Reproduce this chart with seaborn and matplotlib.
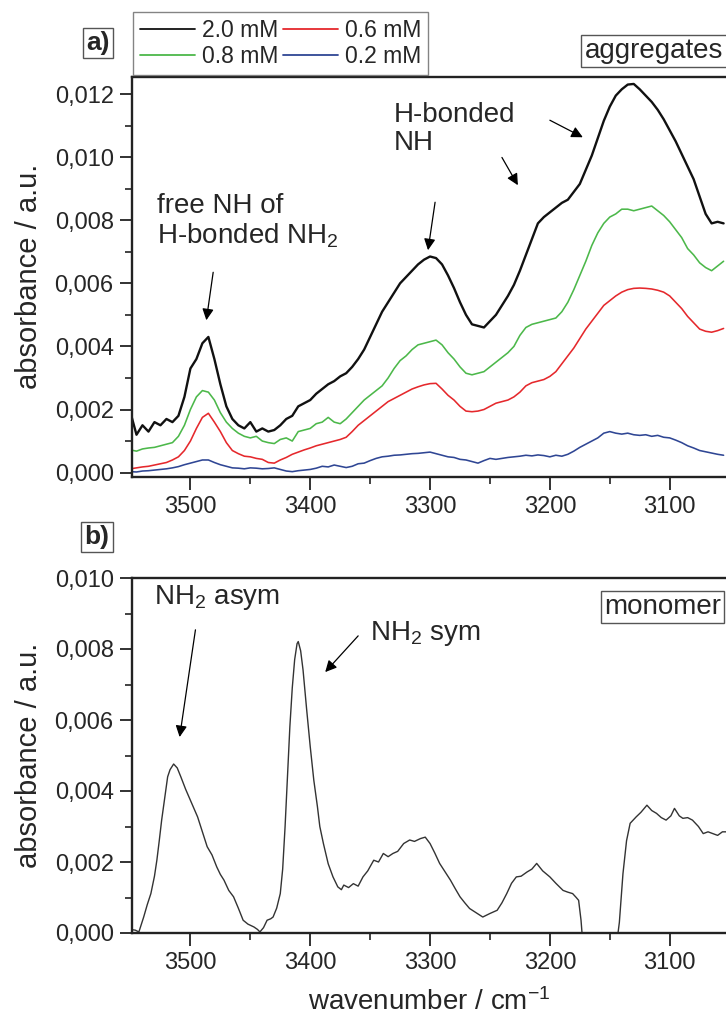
import numpy as np
import pandas as pd
import matplotlib
matplotlib.use("Agg")
import matplotlib.pyplot as plt
from matplotlib.ticker import MultipleLocator, FuncFormatter
from matplotlib.lines import Line2D
import seaborn as sns

# ---------------- data (absorbance in units of 1e-3 a.u.) ----------------
wn_a = np.arange(3550, 3050, -5)  # wavenumber grid for panel a (cm^-1)

abs_20 = [1.9, 1.2, 1.5, 1.3, 1.6, 1.5, 1.7, 1.6, 1.8, 2.4,
          3.3, 3.6, 4.1, 4.3, 3.6, 2.8, 2.1, 1.7, 1.5, 1.4,
          1.6, 1.3, 1.4, 1.3, 1.35, 1.5, 1.7, 1.8, 2.1, 2.2,
          2.3, 2.5, 2.65, 2.8, 2.9, 3.05, 3.15, 3.35, 3.6, 3.9,
          4.3, 4.7, 5.1, 5.4, 5.7, 6.0, 6.2, 6.4, 6.6, 6.75,
          6.85, 6.8, 6.6, 6.25, 5.85, 5.4, 5.0, 4.7, 4.65, 4.6,
          4.8, 5.0, 5.3, 5.6, 5.95, 6.4, 6.9, 7.4, 7.9, 8.1,
          8.25, 8.4, 8.55, 8.65, 8.9, 9.15, 9.6, 10.05, 10.6, 11.15,
          11.6, 11.95, 12.15, 12.3, 12.32, 12.15, 11.95, 11.75, 11.5, 11.2,
          10.85, 10.5, 10.1, 9.7, 9.3, 8.75, 8.2, 7.9, 7.95, 7.9]

abs_08 = [0.72, 0.68, 0.75, 0.78, 0.8, 0.85, 0.9, 0.95, 1.15, 1.5,
          2.0, 2.4, 2.6, 2.55, 2.3, 1.9, 1.6, 1.4, 1.25, 1.15,
          1.1, 1.15, 1.0, 0.95, 0.92, 1.05, 1.1, 1.0, 1.3, 1.35,
          1.4, 1.55, 1.6, 1.75, 1.6, 1.55, 1.7, 1.9, 2.1, 2.3,
          2.45, 2.6, 2.75, 3.0, 3.3, 3.55, 3.7, 3.9, 4.05, 4.1,
          4.15, 4.2, 4.05, 3.8, 3.6, 3.35, 3.15, 3.1, 3.15, 3.2,
          3.35, 3.5, 3.65, 3.8, 4.0, 4.35, 4.6, 4.7, 4.75, 4.8,
          4.85, 4.9, 5.1, 5.4, 5.8, 6.25, 6.7, 7.2, 7.6, 7.9,
          8.1, 8.2, 8.35, 8.35, 8.3, 8.35, 8.4, 8.45, 8.3, 8.15,
          7.95, 7.7, 7.45, 7.1, 6.9, 6.65, 6.5, 6.4, 6.55, 6.7]

abs_06 = [0.12, 0.15, 0.18, 0.2, 0.24, 0.28, 0.32, 0.4, 0.5, 0.7,
          1.0, 1.4, 1.75, 1.88, 1.6, 1.3, 0.95, 0.7, 0.6, 0.52,
          0.5, 0.45, 0.42, 0.32, 0.3, 0.4, 0.48, 0.58, 0.65, 0.72,
          0.78, 0.85, 0.9, 0.95, 1.0, 1.05, 1.12, 1.3, 1.5, 1.65,
          1.8, 1.95, 2.1, 2.25, 2.35, 2.45, 2.55, 2.65, 2.72, 2.78,
          2.82, 2.83, 2.65, 2.45, 2.3, 2.1, 1.95, 1.93, 1.95, 2.0,
          2.1, 2.2, 2.25, 2.3, 2.4, 2.55, 2.75, 2.85, 2.9, 2.95,
          3.05, 3.2, 3.45, 3.7, 3.95, 4.25, 4.55, 4.8, 5.05, 5.3,
          5.45, 5.6, 5.72, 5.8, 5.84, 5.85, 5.84, 5.82, 5.78, 5.72,
          5.6, 5.4, 5.2, 4.95, 4.75, 4.55, 4.48, 4.45, 4.5, 4.57]

abs_02 = [0.03, 0.02, 0.05, 0.06, 0.08, 0.1, 0.12, 0.15, 0.19, 0.25,
          0.3, 0.35, 0.4, 0.4, 0.32, 0.25, 0.2, 0.15, 0.14, 0.12,
          0.15, 0.14, 0.12, 0.13, 0.15, 0.1, 0.05, 0.03, 0.06, 0.08,
          0.1, 0.14, 0.2, 0.18, 0.24, 0.2, 0.16, 0.2, 0.28, 0.3,
          0.38, 0.45, 0.5, 0.52, 0.55, 0.56, 0.58, 0.6, 0.61, 0.63,
          0.65, 0.6, 0.55, 0.5, 0.48, 0.42, 0.4, 0.35, 0.3, 0.38,
          0.45, 0.42, 0.45, 0.48, 0.5, 0.52, 0.55, 0.53, 0.56, 0.54,
          0.5, 0.55, 0.52, 0.58, 0.68, 0.8, 0.9, 1.0, 1.1, 1.25,
          1.3, 1.25, 1.22, 1.25, 1.2, 1.18, 1.2, 1.15, 1.18, 1.12,
          1.1, 1.03, 0.95, 0.85, 0.78, 0.7, 0.66, 0.62, 0.58, 0.55]

conc_labels = ["2.0 mM", "0.8 mM", "0.6 mM", "0.2 mM"]
conc_colors = ["#111111", "#4cb84a", "#e5282c", "#2f4694"]

mono_wn = [3550, 3546, 3543, 3539, 3536, 3533, 3530, 3528, 3526, 3524, 3521, 3519, 3517, 3514,
           3511, 3508, 3504, 3500, 3497, 3494, 3490, 3486, 3482, 3478, 3475, 3472, 3468, 3464,
           3460, 3456, 3452, 3447, 3444, 3442, 3439, 3436, 3433, 3431, 3428, 3425, 3423, 3421,
           3419, 3417, 3415, 3413, 3411, 3410, 3408, 3406, 3403, 3400, 3397, 3394, 3392, 3389,
           3385, 3381, 3377, 3374, 3372, 3368, 3364, 3360, 3356, 3352, 3347, 3343, 3339, 3335,
           3331, 3327, 3322, 3317, 3313, 3308, 3304, 3300, 3296, 3292, 3288, 3283, 3279, 3275,
           3271, 3267, 3262, 3256, 3250, 3244, 3240, 3236, 3232, 3228, 3224, 3219, 3215, 3211,
           3206, 3200, 3195, 3189, 3185, 3181, 3178, 3176, 3174, 3172, 3168, 3150, 3145, 3142,
           3139, 3136, 3133, 3128, 3124, 3119, 3115, 3111, 3107, 3103, 3099, 3096, 3092, 3089,
           3085, 3081, 3076, 3072, 3068, 3064, 3060, 3056, 3053]
mono_abs = [0.1, 0.08, 0.03, 0.45, 0.8, 1.11, 1.6, 2.05, 2.6, 3.18, 3.9, 4.4, 4.6, 4.76,
            4.65, 4.4, 4.05, 3.74, 3.5, 3.27, 2.85, 2.43, 2.2, 1.86, 1.65, 1.49, 1.2, 1.02,
            0.7, 0.36, 0.25, 0.17, 0.1, 0.03, 0.15, 0.36, 0.4, 0.45, 0.7, 1.11, 1.8, 2.99,
            4.4, 5.81, 6.9, 7.7, 8.15, 8.21, 7.95, 7.41, 6.3, 5.25, 4.3, 3.56, 3.0, 2.52,
            1.95, 1.58, 1.3, 1.22, 1.35, 1.28, 1.39, 1.32, 1.58, 1.75, 2.05, 2.0, 2.24, 2.15,
            2.24, 2.3, 2.52, 2.62, 2.58, 2.66, 2.7, 2.52, 2.25, 1.96, 1.75, 1.49, 1.25, 1.02,
            0.85, 0.69, 0.58, 0.45, 0.55, 0.64, 0.85, 1.11, 1.4, 1.58, 1.6, 1.72, 1.8, 1.96,
            1.75, 1.58, 1.4, 1.2, 1.15, 1.11, 1.0, 0.92, 0.36, -0.5, -3.0, -3.0, -0.5, 0.3,
            1.67, 2.6, 3.09, 3.27, 3.4, 3.6, 3.45, 3.37, 3.25, 3.18, 3.3, 3.51, 3.3, 3.23,
            3.25, 3.18, 3.0, 2.8, 2.85, 2.8, 2.75, 2.85, 2.85]

# ---------------- style ----------------
sns.set_style("ticks")
plt.rcParams["font.family"] = ["Liberation Sans", "DejaVu Sans"]
plt.rcParams["mathtext.fontset"] = "custom"
plt.rcParams["mathtext.rm"] = "Liberation Sans"
plt.rcParams["mathtext.it"] = "Liberation Sans"
FS_TICK = 17
FS_LEG = 16.5
FS_ANN = 20
FS_LAB = 21

fig = plt.figure(figsize=(7.26, 10.23), dpi=100)
W, H = 726.0, 1023.0
ax_a = fig.add_axes([131.7 / W, 1 - 476.7 / H, 1 - 131.7 / W, (476.7 - 77) / H])
ax_b = fig.add_axes([131.7 / W, 1 - 933 / H, 1 - 131.7 / W, (933 - 578) / H])

# panel a
series = [abs_20, abs_08, abs_06, abs_02]
df_a = pd.concat([
    pd.DataFrame({"wn": wn_a, "absorbance": np.asarray(v) * 1e-3, "conc": lab})
    for v, lab in zip(series, conc_labels)
], ignore_index=True)
sns.lineplot(data=df_a, x="wn", y="absorbance", hue="conc", hue_order=conc_labels,
             palette=conc_colors, sort=False, estimator=None, ax=ax_a, legend=False,
             linewidth=1.3)
for line, lw in zip(ax_a.get_lines(), [1.7, 1.15, 1.15, 1.15]):
    line.set_linewidth(lw)

# panel b
df_b = pd.DataFrame({"wn": mono_wn, "absorbance": np.asarray(mono_abs) * 1e-3})
sns.lineplot(data=df_b, x="wn", y="absorbance", sort=False, estimator=None, ax=ax_b,
             color="#333333", linewidth=1.0)

fmt = FuncFormatter(lambda v, p: f"{v:.3f}".replace(".", ","))
for ax in (ax_a, ax_b):
    ax.set_xlim(3549, 3053)
    ax.xaxis.set_major_locator(MultipleLocator(100))
    ax.xaxis.set_minor_locator(MultipleLocator(50))
    ax.yaxis.set_major_locator(MultipleLocator(0.002))
    ax.yaxis.set_minor_locator(MultipleLocator(0.001))
    ax.yaxis.set_major_formatter(fmt)
    ax.tick_params(which="major", direction="out", length=9, width=1.3, labelsize=FS_TICK,
                   pad=4, color="#222222")
    ax.tick_params(which="minor", direction="out", length=5, width=1.2, color="#222222")
    ax.tick_params(axis="x", which="major", pad=5)
    ax.spines["right"].set_visible(False)
    for s in ("top", "bottom", "left"):
        ax.spines[s].set_linewidth(1.7)
        ax.spines[s].set_color("#222222")
    ax.set_ylabel("absorbance / a.u.", fontsize=FS_LAB, labelpad=8)
    ax.set_xlabel("")

ax_a.set_ylim(-0.00013, 0.01254)
ax_b.set_ylim(0.0, 0.010)
ax_b.set_xlabel("wavenumber / cm$^{-1}$", fontsize=FS_ANN, labelpad=10)

# legend
handles = [Line2D([], [], color=c, lw=1.3) for c in conc_colors]
leg = fig.legend(handles, conc_labels, loc="upper left", bbox_to_anchor=(133 / W, 1 - 12 / H),
                 ncol=2, fontsize=FS_LEG, frameon=True, fancybox=False, handlelength=2.4,
                 handletextpad=0.3, columnspacing=0.2, labelspacing=0.12, borderpad=0.3,
                 borderaxespad=0)
leg.get_frame().set_edgecolor("#666666")
leg.get_frame().set_linewidth(1.0)

box = dict(boxstyle="square,pad=0.12", fc="white", ec="#555555", lw=1.0)
fig.text(98 / W, 1 - 43 / H, "a)", fontsize=19, fontweight="bold", ha="center",
         va="center", bbox=box)
fig.text(97 / W, 1 - 537 / H, "b)", fontsize=19, fontweight="bold", ha="center",
         va="center", bbox=box)
fig.text(654 / W, 1 - 51 / H, "aggregates", fontsize=FS_ANN, ha="center", va="center", bbox=box)
ax_b.text(3106, 0.00918, "monomer", fontsize=FS_ANN, ha="center", va="center", bbox=box)

arrow = dict(arrowstyle="-|>", color="black", lw=0.9, mutation_scale=17, shrinkA=0, shrinkB=0)

# annotations panel a
ax_a.text(3528, 0.00885, "free NH of\nH-bonded NH$_2$", fontsize=FS_ANN, ha="left", va="top",
          linespacing=1.1)
ax_a.annotate("", xy=(3486.7, 0.00483), xytext=(3481, 0.00635), arrowprops=arrow)
ax_a.text(3330, 0.01175, "H-bonded\nNH", fontsize=FS_ANN, ha="left", va="top", linespacing=1.1)
ax_a.annotate("", xy=(3301.7, 0.00705), xytext=(3295.8, 0.00857), arrowprops=arrow)
ax_a.annotate("", xy=(3226.7, 0.00911), xytext=(3240, 0.00999), arrowprops=arrow)
ax_a.annotate("", xy=(3172.5, 0.01063), xytext=(3200, 0.01117), arrowprops=arrow)

# annotations panel b
ax_b.text(3530, 0.00946, "NH$_2$ asym", fontsize=FS_ANN, ha="left", va="center")
ax_b.annotate("", xy=(3509, 0.00552), xytext=(3495.8, 0.00854), arrowprops=arrow)
ax_b.text(3350, 0.00845, "NH$_2$ sym", fontsize=FS_ANN, ha="left", va="center")
ax_b.annotate("", xy=(3387.5, 0.00735), xytext=(3360, 0.00837), arrowprops=arrow)

fig.savefig("out.png", dpi=100)
